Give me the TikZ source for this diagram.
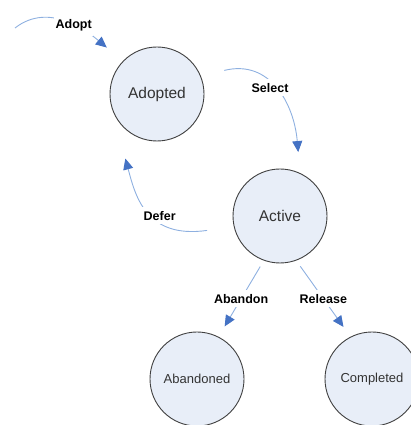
\documentclass[tikz,border=0pt]{standalone}
\usepackage{fontspec}
\setmainfont{Liberation Sans}
\usetikzlibrary{arrows.meta}
\definecolor{statefill}{HTML}{E8EEF8}
\definecolor{linkblue}{HTML}{8EB0E0}
\definecolor{tipblue}{HTML}{4472C4}
\tikzset{
  state/.style={circle,draw=black!75,line width=0.9pt,fill=statefill,
    minimum size=94pt,inner sep=0pt,text=black!80},
  bigstate/.style={state,font=\fontsize{15.5}{18}\selectfont},
  smallstate/.style={state,font=\fontsize{13}{15}\selectfont},
  link/.style={draw=linkblue,line width=0.9pt,
    -{Triangle[length=11pt,width=10pt,color=tipblue]}},
  lbl/.style={fill=white,inner xsep=1.5pt,inner ysep=4pt,
    font=\fontsize{12.5}{14}\selectfont\bfseries}
}

\begin{document}
\begin{tikzpicture}[x=1pt,y=1pt]
\clip (0,0) rectangle (411,425); % page size
\node[bigstate] (adopted) at (157,331) {Adopted};
\node[bigstate] (active) at (280,209) {Active};
\node[smallstate] (abandoned) at (197,46) {Abandoned};
\node[smallstate] (completed) at (372,46) {Completed};
\coordinate (start) at (15,397); % free end of Adopt
\draw[link,shorten >=21pt] (start) to[out=38,in=140] node[lbl,pos=0.54] {Adopt} (adopted.136);
\draw[link,shorten <=24pt,shorten >=21pt] (adopted.22) to[out=14,in=95,looseness=1.3] node[lbl,pos=0.46] {Select} (active.65);
\draw[link,shorten <=27pt,shorten >=50pt] (active.193) to[out=188,in=-75,looseness=1.35] node[lbl,pos=0.4] {Defer} (adopted.200);
\draw[link,shorten <=7pt,shorten >=12pt] (active.250) -- node[lbl] {Abandon} (abandoned.63);
\draw[link,shorten <=7pt,shorten >=12pt] (active.290) -- node[lbl] {Release} (completed.117);
\end{tikzpicture}
\end{document}
